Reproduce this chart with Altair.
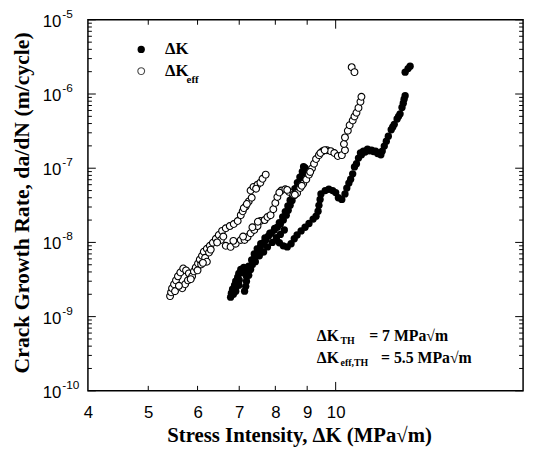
import altair as alt
import pandas as pd

# ---- data: Delta K (filled) ----
dk_x = [6.78, 6.80, 6.83, 6.88, 6.91, 6.96, 6.99, 7.04, 7.12, 7.17, 7.19, 7.19, 7.17, 7.14,
        7.25, 7.30, 7.35, 7.40, 7.46, 7.52, 7.57, 7.66, 7.72, 7.80, 7.88, 7.97, 8.06, 8.15,
        8.24, 8.33, 8.39, 8.45, 8.51, 8.58, 8.64, 8.70, 8.77, 8.83, 8.90, 8.93,
        6.91, 6.99, 7.43, 7.54, 7.66, 7.77, 7.91, 8.03, 8.15, 8.27,
        8.03, 8.12, 8.24, 8.36, 8.48, 8.58, 8.67, 8.80, 8.93, 9.06, 9.20, 9.30, 9.37, 9.40,
        9.44, 9.47,
        9.62, 9.75, 9.89, 10.0, 10.1, 10.23, 10.35, 10.42, 10.5, 10.57, 10.65, 10.72, 10.8,
        10.88, 10.96, 11.08, 11.25, 11.42, 11.59, 11.76, 11.88, 11.97, 12.06, 12.15, 12.28,
        12.42, 12.55, 12.69, 12.78, 12.88, 12.93, 12.93, 13.07, 13.17,
        7.25, 7.33, 7.40, 7.48, 7.58, 7.70, 7.84, 7.98, 8.12, 8.22, 8.30, 8.38, 8.45, 8.52,
        8.60, 8.68, 8.76, 8.84, 8.88, 6.85, 6.92, 7.00, 7.06,
        11.00, 11.15, 11.33, 11.50, 11.68, 11.82, 12.35, 12.62, 12.84]
dk_y = [1.83e-9, 2.07e-9, 2.34e-9, 2.65e-9, 3.0e-9, 3.39e-9, 3.83e-9, 4.32e-9, 4.6e-9, 4.07e-9,
        3.49e-9, 3.0e-9, 2.56e-9, 2.2e-9,
        3.6e-9, 4.32e-9, 5.04e-9, 6.05e-9, 7.05e-9, 7.97e-9, 8.7e-9, 9.9e-9, 1.08e-8, 1.22e-8,
        1.33e-8, 1.47e-8, 1.6e-8, 1.77e-8, 2.0e-8, 2.33e-8, 2.71e-8, 3.16e-8, 3.68e-8, 4.29e-8,
        5.0e-8, 5.83e-8, 6.8e-8, 7.92e-8, 9.23e-8, 1.01e-7,
        2.2e-9, 2.65e-9, 5.5e-9, 6.6e-9, 7.4e-9, 8.7e-9, 1.0e-8, 1.16e-8, 1.28e-8, 1.47e-8,
        1.08e-8, 9.9e-9, 9.0e-9, 8.7e-9, 9.6e-9, 1.12e-8, 1.26e-8, 1.43e-8, 1.6e-8, 1.8e-8,
        2.06e-8, 2.26e-8, 2.63e-8, 3.16e-8, 3.8e-8, 4.5e-8,
        5.0e-8, 5.2e-8, 5.0e-8, 4.7e-8, 4.0e-8, 3.8e-8, 4.5e-8, 5.4e-8, 6.3e-8, 7.1e-8, 8.4e-8,
        1.04e-7, 1.15e-7, 1.37e-7, 1.61e-7, 1.70e-7, 1.8e-7, 1.75e-7, 1.70e-7, 1.6e-7, 1.7e-7,
        1.99e-7, 2.31e-7, 2.7e-7, 3.3e-7, 3.9e-7, 4.6e-7, 5.4e-7, 6.6e-7, 8.5e-7, 9.5e-7,
        1.97e-6, 2.2e-6, 2.37e-6,
        4.8e-9, 5.8e-9, 7.0e-9, 8.2e-9, 9.6e-9, 1.15e-8, 1.33e-8, 1.55e-8, 1.85e-8, 2.2e-8,
        2.6e-8, 3.1e-8, 3.7e-8, 4.4e-8, 5.3e-8, 6.4e-8, 7.6e-8, 9.0e-8, 1.05e-7,
        2.0e-9, 2.5e-9, 3.1e-9, 3.9e-9,
        1.52e-7, 1.65e-7, 1.72e-7, 1.68e-7, 1.58e-7, 1.52e-7, 3.6e-7, 5.0e-7, 7.5e-7]

# ---- data: Delta K_eff (open) ----
eff_x = [5.42, 5.44, 5.46, 5.50, 5.54, 5.58, 5.63, 5.69, 5.75, 5.81, 5.88, 5.67, 5.73, 5.79,
         5.92, 5.96, 6.01, 6.05, 6.10, 6.14, 6.21, 6.28, 6.35, 6.42, 6.49, 6.57, 6.66, 6.76,
         6.08, 6.17, 6.26, 6.21,
         6.86, 6.96, 7.04, 7.09, 7.17, 7.25, 7.33, 7.30, 7.38, 7.49, 7.57, 7.63, 7.72,
         6.54, 6.66, 6.78, 6.91, 7.04, 7.14, 7.22, 7.30, 7.40, 7.49, 7.57, 7.69, 7.77, 7.86,
         7.94, 8.00, 8.06, 8.18, 8.30, 8.42, 8.55, 8.67, 8.77, 8.87, 8.97, 9.06, 9.16, 9.23,
         9.30, 9.40, 9.53, 9.68, 9.82, 9.95, 10.08, 10.23, 10.35, 10.31, 10.35, 10.46, 10.53,
         10.65, 10.72, 10.8, 10.88, 10.96, 11.0, 10.61, 10.72,
         5.52, 5.60, 5.85, 6.00, 6.12, 6.30, 6.45, 6.60, 6.85, 7.10, 7.35, 7.50, 7.12, 7.20,
         7.45, 8.12, 8.36, 8.60, 8.82, 9.10, 9.45, 9.60]
eff_y = [1.89e-9, 2.13e-9, 2.41e-9, 2.73e-9, 3.08e-9, 3.49e-9, 3.94e-9, 4.46e-9, 4.2e-9,
         3.83e-9, 3.49e-9, 2.41e-9, 2.73e-9, 3.08e-9,
         4.07e-9, 4.6e-9, 5.2e-9, 5.87e-9, 6.6e-9, 7.5e-9, 8.2e-9, 9.0e-9, 9.9e-9, 1.12e-8,
         1.26e-8, 1.43e-8, 1.55e-8, 1.66e-8,
         5.04e-9, 6.2e-9, 7.3e-9, 5.5e-9,
         1.77e-8, 1.94e-8, 2.33e-8, 2.63e-8, 3.06e-8, 3.56e-8, 4.0e-8, 5.0e-8, 5.6e-8, 6.0e-8,
         6.4e-8, 7.2e-8, 8.2e-8,
         1.08e-8, 9.0e-9, 8.7e-9, 9.6e-9, 1.08e-8, 1.08e-8, 1.18e-8, 1.33e-8, 1.47e-8, 1.66e-8,
         1.94e-8, 2.0e-8, 2.2e-8, 2.33e-8, 2.8e-8, 3.4e-8, 4.1e-8, 5.0e-8, 5.2e-8, 4.8e-8,
         4.4e-8, 4.6e-8, 5.4e-8, 6.2e-8, 7.05e-8, 8.2e-8, 9.9e-8, 1.15e-7, 1.33e-7, 1.5e-7,
         1.7e-7, 1.75e-7, 1.7e-7, 1.6e-7, 1.46e-7, 1.5e-7, 1.75e-7, 2.12e-7, 2.6e-7, 3.2e-7,
         3.8e-7, 4.4e-7, 4.98e-7, 5.6e-7, 6.5e-7, 7.87e-7, 9.18e-7, 2.3e-6, 1.97e-6,
         2.2e-9, 2.6e-9, 3.2e-9, 4.2e-9, 5.3e-9, 8.0e-9, 1.0e-8, 1.2e-8, 1.05e-8, 1.2e-8,
         1.6e-8, 1.9e-8, 2.9e-8, 3.3e-8, 5.3e-8, 4.7e-8, 5.1e-8, 4.4e-8, 5.8e-8, 8.9e-8,
         1.6e-7, 1.75e-7]

# ---- axis decorations ----
x_tick_labels = [4, 5, 6, 7, 8, 9, 10]
x_minor_ticks = [5, 6, 7, 8, 9]
x_major_ticks = [10]
y_decades = [1e-10, 1e-9, 1e-8, 1e-7, 1e-6, 1e-5]
y_exponents = ["-10", "-9", "-8", "-7", "-6", "-5"]
y_minor = [m * d for d in y_decades[:-1] for m in range(2, 10)]

W, H = 441, 376
XS = alt.Scale(type="log", domain=[4, 20], nice=False)
YS = alt.Scale(type="log", domain=[1e-10, 1e-5], nice=False)

XAX = alt.Axis(
    values=x_tick_labels, format="d", tickSize=0, ticks=False, domain=False, grid=False,
    labelFont="Liberation Sans", labelFontSize=17, labelColor="black", labelPadding=14,
    labelFlush=False, labelOverlap=False,
    title="Stress Intensity, ΔK (MPa√m)", titleFont="Liberation Serif", titleFontSize=21,
    titleFontWeight="bold", titleColor="black", titleX=214, titleY=45,
    titleBaseline="middle")
YAX = alt.Axis(
    labels=False, ticks=False, domain=False, grid=False,
    title="Crack Growth Rate, da/dN (m/cycle)", titleFont="Liberation Serif",
    titleFontSize=22, titleFontWeight="bold", titleColor="black",
    titleX=-67, titleY=185, titleBaseline="middle", titleAlign="center")

dk_df = pd.DataFrame({"x": dk_x, "y": dk_y})
eff_df = pd.DataFrame({"x": eff_x, "y": eff_y})

filled = alt.Chart(dk_df).mark_circle(size=55, color="black", opacity=1).encode(
    x=alt.X("x:Q", scale=XS, axis=XAX),
    y=alt.Y("y:Q", scale=YS, axis=YAX),
)

opened = alt.Chart(eff_df).mark_point(shape="circle", size=48, filled=False, fill="white",
                                      fillOpacity=1, stroke="black", strokeWidth=1.1,
                                      opacity=1).encode(
    x=alt.X("x:Q", scale=XS, axis=XAX),
    y=alt.Y("y:Q", scale=YS, axis=YAX),
)

# ticks (inward)
def xticks(vals, length):
    df = pd.DataFrame({"x": vals})
    bottom = alt.Chart(df).mark_rule(color="black", strokeWidth=1).encode(
        x=alt.X("x:Q", scale=XS, axis=XAX), y=alt.value(H), y2=alt.value(H - length))
    top = alt.Chart(df).mark_rule(color="black", strokeWidth=1).encode(
        x=alt.X("x:Q", scale=XS, axis=XAX), y=alt.value(0), y2=alt.value(length))
    return [bottom, top]

def yticks(vals, length):
    df = pd.DataFrame({"y": vals})
    left = alt.Chart(df).mark_rule(color="black", strokeWidth=1).encode(
        y=alt.Y("y:Q", scale=YS, axis=YAX), x=alt.value(0), x2=alt.value(length))
    right = alt.Chart(df).mark_rule(color="black", strokeWidth=1).encode(
        y=alt.Y("y:Q", scale=YS, axis=YAX), x=alt.value(W), x2=alt.value(W - length))
    return [left, right]

tick_layers = (xticks(x_minor_ticks, 5) + xticks(x_major_ticks, 9)
               + yticks(y_decades, 8) + yticks(y_minor, 4))

# y labels 10^k
ylab = pd.DataFrame({"v": y_decades, "e": y_exponents, "base": ["10"] * 6})
base_lab = alt.Chart(ylab).mark_text(align="right", baseline="middle", font="Liberation Sans",
                                     fontSize=17, color="black", dy=2).encode(
    y=alt.Y("v:Q", scale=YS, axis=YAX),
    x=alt.value(-27),
    text="base:N")
exp_lab = alt.Chart(ylab).mark_text(align="left", baseline="middle", font="Liberation Sans",
                                    fontSize=12, color="black", dy=-6).encode(
    y=alt.Y("v:Q", scale=YS, axis=YAX),
    x=alt.value(-26),
    text="e:N")

# legend and annotations
def txt(s, px, py, size=17, align="left", font="Liberation Serif", weight="bold"):
    return alt.Chart(pd.DataFrame({"t": [s]})).mark_text(
        align=align, baseline="middle", font=font, fontSize=size, fontWeight=weight,
        color="black").encode(x=alt.value(px), y=alt.value(py), text="t:N")

leg_filled = alt.Chart(pd.DataFrame({"t": ["a"]})).mark_circle(
    size=55, color="black", opacity=1).encode(x=alt.value(54), y=alt.value(30))
leg_open = alt.Chart(pd.DataFrame({"t": ["b"]})).mark_point(
    shape="circle", size=48, filled=False, stroke="black", strokeWidth=1.1).encode(
    x=alt.value(54), y=alt.value(52))

annots = [
    leg_filled, leg_open,
    txt("ΔK", 78, 30), txt("ΔK", 78, 52), txt("eff", 100, 61, size=11),
    txt("ΔK", 232, 321, size=16), txt("TH", 256, 326, size=10),
    txt("= 7 MPa√m", 285, 321, size=16),
    txt("ΔK", 232, 343, size=16), txt("eff,TH", 256, 348, size=10),
    txt("= 5.5 MPa√m", 297, 343, size=16),
]

chart = alt.layer(filled, opened, *tick_layers, base_lab, exp_lab, *annots).properties(
    width=W, height=H,
    background="white",
    autosize=alt.AutoSizeParams(type="none"),
    padding={"left": 81, "top": 9, "right": 6, "bottom": 56},
).configure_view(stroke="black", strokeWidth=1.5)

chart.save("out.html", embed_options={"renderer": "svg", "actions": False})
